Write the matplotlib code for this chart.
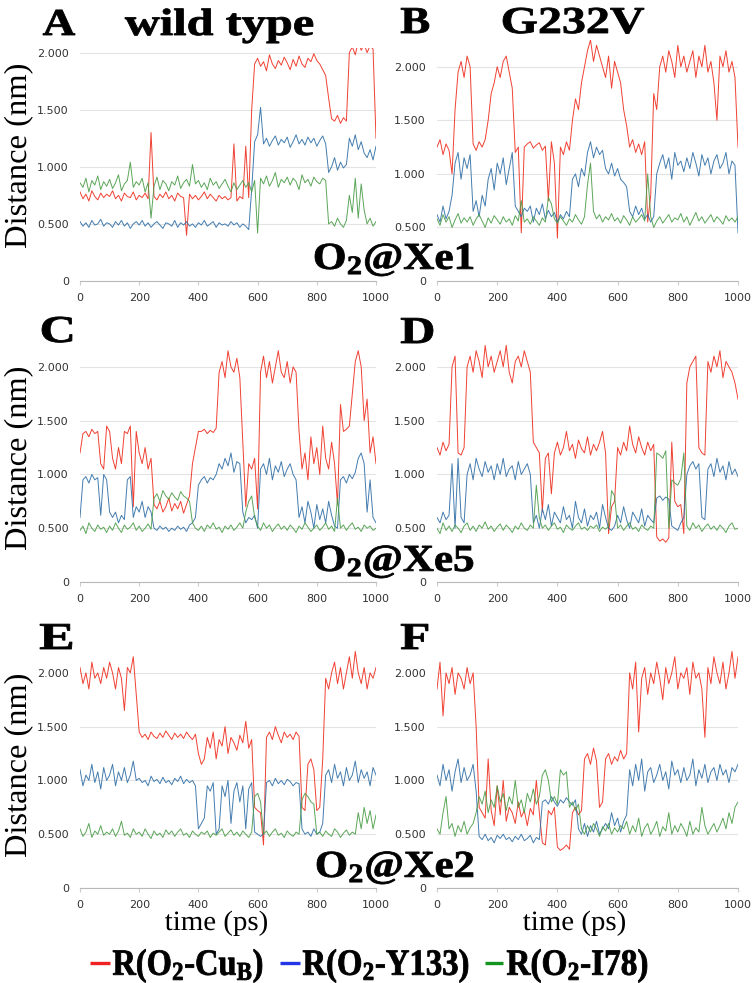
import numpy as np
import matplotlib
matplotlib.use('Agg')
import matplotlib.pyplot as plt
from matplotlib.textpath import TextPath
from matplotlib.patches import PathPatch
from matplotlib.font_manager import FontProperties
from matplotlib.transforms import Affine2D

plt.rcParams['mathtext.default'] = 'regular'

# distances in 0.01 nm, one value every 10 ps (0..1000 ps)
# panel A: wild type, O2@Xe1
a_cub = [78,72,76,70,79,74,71,77,73,76,
         74,79,72,75,70,77,74,73,78,71,
         75,73,77,72,130,74,71,76,73,78,
         72,75,70,77,74,73,40,76,72,75,
         71,74,78,72,76,73,70,75,72,74,
         71,73,120,70,74,72,118,73,150,190,
         195,188,192,184,198,190,186,193,189,196,
         191,185,194,188,197,190,187,195,192,199,
         193,190,185,180,160,142,140,145,138,143,
         140,200,205,198,210,202,207,200,206,203,
         125]
a_y133 = [52,48,51,47,53,49,50,54,48,51,
          50,47,52,49,53,48,51,46,50,52,
          49,53,48,51,47,50,52,49,46,51,
          50,48,53,47,51,49,52,48,50,47,
          51,49,53,48,50,52,47,51,49,50,
          48,52,49,51,47,50,48,45,80,122,
          128,152,120,125,118,123,127,119,124,121,
          126,117,122,128,120,124,119,126,121,125,
          118,123,127,120,95,100,108,97,104,99,
          102,125,118,128,115,122,112,108,115,106,
          118]
a_i78 = [86,82,90,78,88,84,92,80,87,83,
         89,81,86,93,79,85,88,104,82,87,
         84,90,78,86,55,83,91,80,88,85,
         79,87,84,92,81,86,89,83,102,85,
         88,82,86,80,90,84,87,81,85,89,
         83,78,86,80,84,88,82,86,78,88,
         42,90,85,92,83,88,95,82,89,86,
         91,84,90,87,80,93,86,89,83,91,
         87,85,90,88,50,52,48,55,50,47,
         53,75,60,90,55,85,62,50,55,48,
         52]

# panel B: G232V, O2@Xe1
b_cub = [125,132,118,128,122,100,160,195,205,190,
         210,200,128,122,130,125,132,150,175,185,
         200,190,205,210,195,180,120,125,45,125,
         128,130,124,127,129,122,126,75,130,110,
         40,125,118,130,122,150,170,160,185,200,
         215,225,205,220,210,200,190,210,180,205,
         195,185,160,145,125,132,120,128,118,130,
         55,80,175,160,200,210,195,215,205,190,
         220,200,210,195,205,215,190,210,200,220,
         195,205,185,150,210,200,215,195,205,190,
         125]
b_y133 = [62,55,70,58,65,80,110,120,95,115,
          105,118,65,75,60,80,70,95,105,85,
          110,100,115,90,105,120,70,65,60,68,
          65,70,55,68,62,72,58,66,60,64,
          55,62,58,65,60,95,100,88,105,98,
          120,130,115,125,118,122,105,100,110,98,
          105,95,92,88,65,60,70,62,68,58,
          62,55,60,100,110,118,105,115,95,120,
          108,112,102,115,105,120,110,98,118,108,
          115,100,112,118,105,110,120,100,112,108,
          45]
b_i78 = [58,52,62,55,60,50,57,63,54,59,
         55,60,52,58,62,56,50,59,54,61,
         57,53,60,55,58,52,61,56,75,55,
         58,53,60,56,52,59,55,78,72,58,
         54,60,56,52,58,55,62,57,53,60,
         90,110,65,58,62,55,60,57,63,56,
         59,54,61,57,52,60,55,58,62,56,
         100,60,50,56,60,54,58,62,55,59,
         57,63,55,60,52,58,64,56,60,54,
         58,62,55,60,57,53,61,56,59,55,
         60]

# panel C: wild type, O2@Xe5
c_cub = [120,138,140,135,142,138,140,110,105,145,
         140,115,105,125,110,140,138,145,70,140,
         120,110,125,105,115,72,68,75,65,70,
         78,66,73,68,75,64,72,80,110,125,
         140,140,142,138,141,139,143,195,205,190,
         215,200,195,208,190,130,70,110,105,115,
         68,195,210,190,205,185,200,215,195,190,
         205,185,200,195,140,105,120,95,135,110,
         125,100,145,115,105,130,110,72,165,140,
         142,145,175,205,215,200,150,170,120,135,
         110]
c_y133 = [60,95,98,92,100,95,97,62,100,95,
          65,60,65,55,62,58,95,98,60,70,
          65,75,60,70,65,50,48,52,49,51,
          47,50,48,52,49,51,47,53,55,60,
          90,95,98,92,97,95,100,110,105,115,
          108,120,102,112,110,65,55,60,58,62,
          50,105,110,100,115,95,108,102,112,98,
          105,110,100,95,60,70,55,75,65,50,
          72,58,68,55,75,62,52,50,95,98,
          92,100,96,102,115,120,110,65,95,60,
          55]
c_i78 = [48,52,45,55,50,47,53,49,51,46,
         52,48,55,50,46,53,49,51,55,48,
         52,47,50,54,49,78,82,75,85,80,
         77,83,79,76,84,80,78,75,55,50,
         48,52,47,53,50,55,49,51,46,52,
         49,53,48,51,55,50,65,75,80,60,
         52,48,55,50,53,47,51,54,49,52,
         48,53,50,46,52,49,55,51,47,50,
         53,48,51,55,49,52,47,78,50,53,
         48,52,55,49,51,47,53,50,52,48,
         50]

# panel D: G232V, O2@Xe5
d_cub = [125,118,130,122,128,200,210,120,118,125,
         200,210,195,215,205,190,220,200,210,195,
         205,215,200,220,195,185,205,210,200,215,
         205,195,130,125,120,65,115,120,82,120,
         130,118,125,140,122,128,115,132,124,120,
         135,118,128,122,130,140,120,45,70,75,
         125,118,130,122,145,128,120,135,125,118,
         130,122,128,42,38,40,37,41,130,75,
         70,72,45,185,200,205,210,125,120,118,
         205,195,210,200,215,190,205,200,195,185,
         170]
d_y133 = [60,55,65,58,62,110,50,115,60,55,
          100,110,95,115,105,98,112,102,108,95,
          110,100,115,98,105,108,95,112,100,105,
          110,100,55,62,50,68,58,72,52,65,
          60,55,70,58,62,50,75,60,55,68,
          52,62,58,65,50,72,60,50,48,52,
          62,55,70,58,50,65,60,55,68,52,
          62,58,55,78,80,76,79,77,52,50,
          48,55,60,100,108,112,105,110,60,58,
          105,110,98,115,102,108,95,112,100,105,
          98]
d_i78 = [50,45,55,48,52,47,53,50,46,52,
         55,48,52,47,53,50,56,49,52,47,
         51,54,48,53,50,46,52,49,55,50,
         48,53,50,90,60,50,53,48,52,55,
         49,51,46,53,50,48,52,55,49,51,
         48,52,50,53,47,51,49,52,85,80,
         50,53,48,52,55,49,51,47,53,50,
         48,52,50,120,118,115,122,50,95,92,
         90,96,120,52,48,55,50,53,47,51,
         54,49,52,48,53,50,46,52,55,49,
         50]

# panel E: wild type, O2@Xe2
e_cub = [205,190,200,185,210,195,200,190,205,195,
         210,200,185,205,195,165,205,200,215,180,
         145,140,143,138,145,141,139,144,140,146,
         142,138,144,140,143,139,145,141,138,143,
         125,115,120,140,130,145,120,138,132,150,
         125,140,135,128,142,135,155,130,138,75,
         72,70,40,140,145,138,150,142,135,145,
         140,143,138,145,141,75,72,115,120,110,
         72,75,120,195,185,200,210,190,205,185,
         200,215,195,220,200,190,205,185,200,195,
         205]
e_y133 = [110,95,105,100,115,98,108,92,112,100,
          105,115,95,108,100,112,98,105,118,100,
          102,98,100,95,104,99,101,97,103,98,
          100,96,102,99,104,97,101,98,100,95,
          55,60,65,95,90,98,50,55,95,85,
          100,60,90,98,80,95,55,92,98,52,
          50,48,50,98,100,95,102,97,100,96,
          101,99,95,98,97,55,50,52,48,55,
          50,52,60,105,110,98,115,102,108,95,
          112,100,105,118,98,110,102,108,95,112,
          105]
e_i78 = [55,48,52,60,47,53,50,58,49,52,
         50,55,48,53,62,49,51,47,55,50,
         52,48,55,50,46,53,49,51,47,54,
         50,53,48,52,55,49,51,47,53,50,
         48,52,50,53,47,51,49,52,55,48,
         51,54,49,52,48,53,50,47,52,85,
         88,80,50,53,48,52,55,49,51,47,
         53,50,48,52,50,82,88,85,80,78,
         50,52,48,53,50,48,55,52,47,51,
         54,49,52,50,70,55,75,60,72,55,
         68]

# panel F: G232V, O2@Xe2
f_cub = [185,210,160,200,190,205,180,200,195,185,
         205,190,200,150,75,70,65,120,72,58,
         95,68,100,62,75,70,60,80,66,72,
         58,74,68,100,70,42,40,72,68,75,
         38,35,37,40,36,70,75,68,72,120,
         125,115,130,118,75,80,120,125,115,122,
         118,128,120,125,200,185,210,145,195,205,
         180,200,190,210,195,175,205,190,200,215,
         185,200,195,205,180,210,195,200,185,140,
         205,190,215,200,190,210,185,200,220,195,
         215]
f_y133 = [105,95,115,100,110,90,108,120,98,112,
          100,105,115,90,48,45,50,44,47,42,
          49,46,50,45,47,43,48,45,50,44,
          46,49,42,47,45,80,82,78,85,80,
          76,82,79,84,80,77,82,55,50,60,
          48,58,52,62,50,55,60,55,70,58,
          65,52,62,68,110,95,115,100,120,90,
          108,112,98,105,115,100,108,92,118,105,
          110,98,112,100,105,120,95,110,102,115,
          98,108,112,100,115,105,110,98,112,108,
          115]
f_i78 = [55,50,70,85,55,60,48,58,52,62,
         50,56,60,70,85,78,90,70,82,75,
         95,80,88,72,85,78,100,75,82,70,
         88,80,92,78,85,105,110,100,80,85,
         78,110,105,108,75,80,72,78,55,50,
         58,52,60,55,48,57,53,60,50,56,
         52,58,55,62,50,58,52,65,48,56,
         60,50,55,62,48,57,53,70,50,58,
         52,60,55,48,62,50,56,52,75,58,
         50,55,60,52,58,65,55,70,60,75,
         80]

y_ticks = [0, 0.5, 1.0, 1.5, 2.0]
y_ticklabels = ['0', '0.500', '1.000', '1.500', '2.000']
x_ticks = [0, 200, 400, 600, 800, 1000]
legend_labels = ['R(O$_2$-Cu$_B$)', 'R(O$_2$-Y133)', 'R(O$_2$-I78)']

line_colors = ['#ee2c1c', '#2f6ea6', '#4a9c47']
legend_colors = ['#ee2222', '#2435e8', '#14951f']

W, H = 752, 983
fig = plt.figure(figsize=(W / 100, H / 100), dpi=100)

# (series, ymax, box in pixels: left, top, right, bottom)
panels = [
    ((a_cub, a_y133, a_i78), 2.04, (80, 48, 376, 281)),
    ((b_cub, b_y133, b_i78), 2.25, (437, 40, 738, 281)),
    ((c_cub, c_y133, c_i78), 2.25, (80, 340, 376, 582)),
    ((d_cub, d_y133, d_i78), 2.25, (437, 340, 738, 582)),
    ((e_cub, e_y133, e_i78), 2.25, (80, 646, 376, 888)),
    ((f_cub, f_y133, f_i78), 2.25, (437, 646, 738, 888)),
]

for series, ymax, (l, t, r, b) in panels:
    ax = fig.add_axes([l / W, 1 - b / H, (r - l) / W, (b - t) / H])
    for vals, c in zip(series, line_colors):
        v = np.array(vals) / 100
        x = np.linspace(0, 1000, len(v))
        ax.plot(x, v, color=c, lw=0.7, alpha=0.9)
    ax.set_xlim(0, 1000)
    ax.set_ylim(0, ymax)
    ax.set_xticks(x_ticks)
    ax.set_yticks(y_ticks)
    ax.set_yticklabels(y_ticklabels)
    for side in ['left', 'right', 'top']:
        ax.spines[side].set_visible(False)
    ax.spines['bottom'].set_color('#b8b8b8')
    ax.grid(axis='y', color='#e3e3e3', lw=0.8)
    ax.set_axisbelow(True)
    ax.tick_params(axis='y', length=0, pad=8, labelsize=8, labelcolor='#333333')
    ax.tick_params(axis='x', length=3, color='#cccccc', pad=6, labelsize=8,
                   labelcolor='#333333')
    ax.patch.set_alpha(0)

# overlay in pixel units for the serif labels
ov = fig.add_axes([0, 0, 1, 1])
ov.set_xlim(0, W)
ov.set_ylim(0, H)
ov.axis('off')
ov.patch.set_alpha(0)


def label(s, x, y, size, width, weight='bold', rot=0, stroke=0.6):
    fp = FontProperties(family='Liberation Serif', weight=weight)
    tp = TextPath((0, 0), s, size=size, prop=fp)
    ext = tp.get_extents()
    sx = width / ext.width
    tr = Affine2D().translate(-ext.x0, 0).scale(sx, 1).rotate_deg(rot).translate(x, H - y)
    ov.add_patch(PathPatch(tr.transform_path(tp), fc='black', ec='black', lw=stroke))


label('A', 43, 35, 38, 32)
label('wild type', 125, 35, 38, 188)
label('B', 401, 33, 38, 28)
label('G232V', 503, 33, 38, 141)
label('C', 42, 342, 38, 30)
label('D', 401, 343, 38, 32)
label('E', 40, 649, 38, 32)
label('F', 401, 649, 38, 27)

label('O$_2$@Xe1', 315, 269, 38, 158)
label('O$_2$@Xe5', 315, 571, 38, 158)
label('O$_2$@Xe2', 317, 877, 38, 156)

for y0, y1 in [(65, 248), (368, 550), (675, 857)]:
    label('Distance (nm)', 26, y1, 32, y1 - y0, weight='normal', rot=90, stroke=0)

label('time (ps)', 165, 930, 28, 102, weight='normal', stroke=0)
label('time (ps)', 523, 930, 28, 102, weight='normal', stroke=0)

# legend
handles = [(90, 110, 113, 262), (280, 300, 303, 468), (485, 503, 507, 647)]
for (h0, h1, t0, t1), c, s in zip(handles, legend_colors, legend_labels):
    ov.plot([h0, h1], [H - 963, H - 963], color=c, lw=2.4, solid_capstyle='butt')
    label(s, t0, 975, 37, t1 - t0)

fig.savefig('out.png', dpi=100)
